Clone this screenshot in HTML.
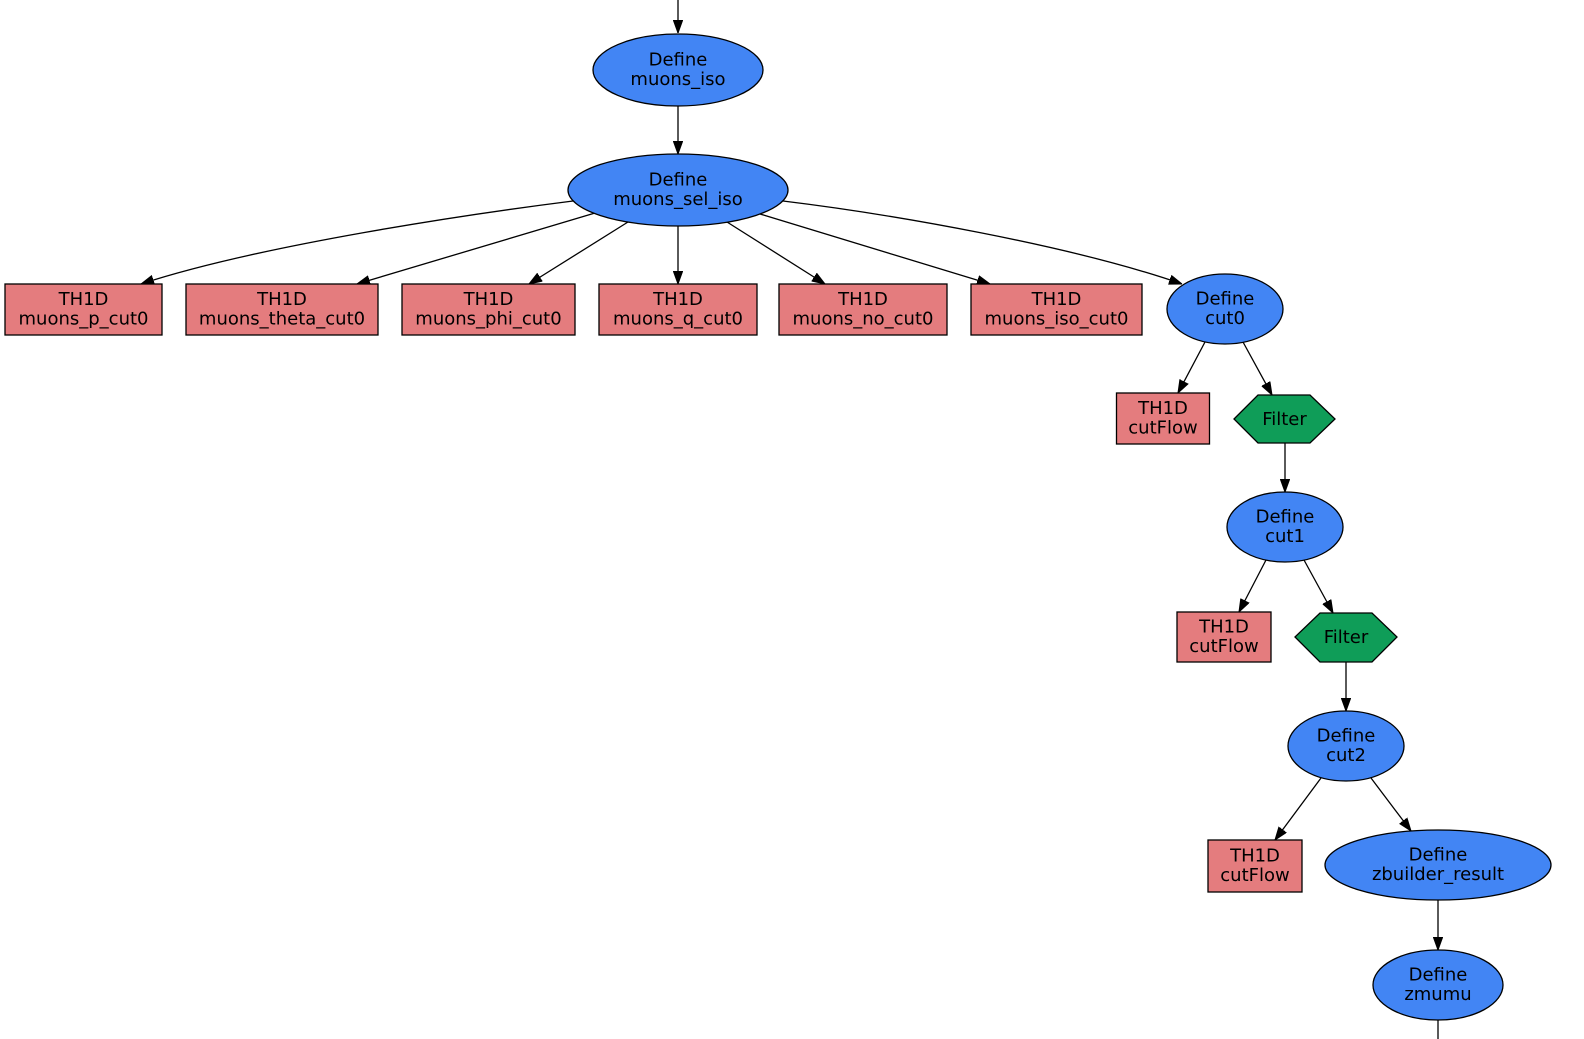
<!DOCTYPE html>
<html>
<head>
<meta charset="utf-8">
<style>
  html, body { margin: 0; padding: 0; background: #ffffff; }
  svg { display: block; }
  text { font-family: "DejaVu Sans", "Liberation Sans", sans-serif; font-size: 18px; fill: #000; text-anchor: middle; }
</style>
</head>
<body>
<svg width="1584" height="1039" viewBox="0 0 1584 1039" xmlns="http://www.w3.org/2000/svg">
  <defs>
    <marker id="a" markerWidth="13" markerHeight="10" refX="13" refY="5" orient="auto" markerUnits="userSpaceOnUse">
      <path d="M0,0.3 L13,5 L0,9.7 z" fill="#000" stroke="#000" stroke-width="1"/>
    </marker>
  </defs>
  <rect width="1584" height="1039" fill="#fff"/>

  <!-- edges -->
  <g fill="none" stroke="#000" stroke-width="1.3">
    <path d="M678,0 L678,33" marker-end="url(#a)"/>
    <path d="M678,106 L678,154" marker-end="url(#a)"/>

    <path d="M573,201 C470,214 260,245 141,284" marker-end="url(#a)"/>
    <path d="M595,213 L357,284" marker-end="url(#a)"/>
    <path d="M628,222 L529,284" marker-end="url(#a)"/>
    <path d="M678,226 L678,284" marker-end="url(#a)"/>
    <path d="M727,222 L825,284" marker-end="url(#a)"/>
    <path d="M760,214 L990,284" marker-end="url(#a)"/>
    <path d="M783,201 C890,214 1070,245 1182,284" marker-end="url(#a)"/>

    <path d="M1205,342 L1178,393" marker-end="url(#a)"/>
    <path d="M1243,342 L1272,395" marker-end="url(#a)"/>
    <path d="M1285,443 L1285,492" marker-end="url(#a)"/>

    <path d="M1266,560 L1239,612" marker-end="url(#a)"/>
    <path d="M1304,560 L1333,613" marker-end="url(#a)"/>
    <path d="M1346,662 L1346,711" marker-end="url(#a)"/>

    <path d="M1321,778 L1275,840" marker-end="url(#a)"/>
    <path d="M1371,778 L1411,831" marker-end="url(#a)"/>
    <path d="M1438,900 L1438,950" marker-end="url(#a)"/>
    <path d="M1438,1020 L1438,1045"/>
  </g>

  <!-- ellipses (Define) -->
  <g fill="#4285f4" stroke="#000" stroke-width="1.3">
    <ellipse cx="678" cy="70" rx="85" ry="36"/>
    <ellipse cx="678" cy="190" rx="110" ry="36"/>
    <ellipse cx="1225" cy="309" rx="58" ry="35"/>
    <ellipse cx="1285" cy="527" rx="58" ry="35"/>
    <ellipse cx="1346" cy="746" rx="58" ry="35"/>
    <ellipse cx="1438" cy="865" rx="113" ry="35"/>
    <ellipse cx="1438" cy="985" rx="65" ry="35"/>
  </g>

  <!-- boxes (TH1D) -->
  <g fill="#e47c7e" stroke="#000" stroke-width="1.3">
    <rect x="5" y="284" width="157" height="51"/>
    <rect x="186" y="284" width="192" height="51"/>
    <rect x="402" y="284" width="173" height="51"/>
    <rect x="599" y="284" width="158" height="51"/>
    <rect x="779" y="284" width="168" height="51"/>
    <rect x="971" y="284" width="171" height="51"/>
    <rect x="1116.5" y="393" width="93" height="51"/>
    <rect x="1177" y="612" width="94" height="50"/>
    <rect x="1208" y="840" width="94" height="52"/>
  </g>

  <!-- hexagons (Filter) -->
  <g fill="#0f9d58" stroke="#000" stroke-width="1.3">
    <polygon points="1234,419 1258,395 1310,395 1335,419 1310,443 1258,443"/>
    <polygon points="1295,637 1320,613 1372,613 1397,637 1372,662 1320,662"/>
  </g>

  <!-- labels -->
  <text x="678" y="65.5">Define</text>
  <text x="678" y="84.8">muons_iso</text>

  <text x="678" y="185.5">Define</text>
  <text x="678" y="204.8">muons_sel_iso</text>

  <text x="83.5" y="305">TH1D</text>
  <text x="83.5" y="324.5">muons_p_cut0</text>
  <text x="282" y="305">TH1D</text>
  <text x="282" y="324.5">muons_theta_cut0</text>
  <text x="488.5" y="305">TH1D</text>
  <text x="488.5" y="324.5">muons_phi_cut0</text>
  <text x="678" y="305">TH1D</text>
  <text x="678" y="324.5">muons_q_cut0</text>
  <text x="863" y="305">TH1D</text>
  <text x="863" y="324.5">muons_no_cut0</text>
  <text x="1056.5" y="305">TH1D</text>
  <text x="1056.5" y="324.5">muons_iso_cut0</text>

  <text x="1225" y="304.5">Define</text>
  <text x="1225" y="323.8">cut0</text>

  <text x="1163" y="414">TH1D</text>
  <text x="1163" y="433.5">cutFlow</text>
  <text x="1284.5" y="425">Filter</text>

  <text x="1285" y="522.5">Define</text>
  <text x="1285" y="541.8">cut1</text>

  <text x="1224" y="632.5">TH1D</text>
  <text x="1224" y="652">cutFlow</text>
  <text x="1346" y="643">Filter</text>

  <text x="1346" y="741.5">Define</text>
  <text x="1346" y="760.8">cut2</text>

  <text x="1255" y="861.5">TH1D</text>
  <text x="1255" y="881">cutFlow</text>

  <text x="1438" y="860.5">Define</text>
  <text x="1438" y="879.8">zbuilder_result</text>

  <text x="1438" y="980.5">Define</text>
  <text x="1438" y="999.8">zmumu</text>
</svg>
</body>
</html>
